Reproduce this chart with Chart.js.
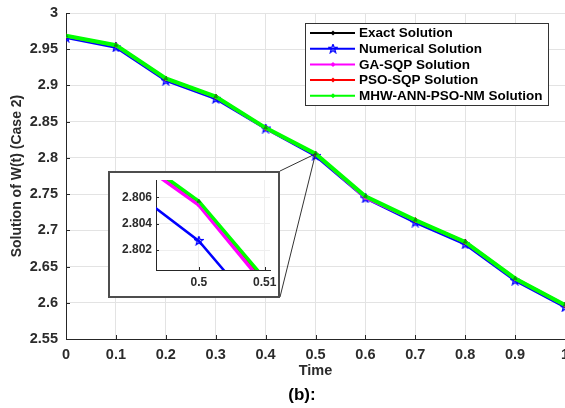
<!DOCTYPE html>
<html>
<head>
<meta charset="utf-8">
<script src="https://cdn.jsdelivr.net/npm/chart.js@4.4.0/dist/chart.umd.min.js"></script>
<style>
html, body { margin: 0; padding: 0; background: #fff; }
#wrap { position: relative; width: 565px; height: 408px; overflow: hidden; }
#mainChart { position: absolute; left: 0; top: 0; }
#insetBox { position: absolute; left: 108px; top: 171px; width: 172px; height: 127px;
  background: #fff; border: 2px solid #4d4d4d; box-sizing: border-box; }
#insetChart { position: absolute; left: 0; top: 0; }
</style>
</head>
<body>
<div id="wrap">
  <canvas id="mainChart" width="565" height="408"></canvas>
  <div id="insetBox"><canvas id="insetChart" width="168" height="123"></canvas></div>
</div>
<script>
// data
const time = [0, 0.1, 0.2, 0.3, 0.4, 0.5, 0.6, 0.7, 0.8, 0.9, 1];
const exactVals = [2.9685, 2.9555, 2.9095, 2.8845, 2.8415, 2.8056, 2.7468, 2.7140, 2.6838, 2.6335, 2.5968];
const numericalVals = [2.9660, 2.9525, 2.9065, 2.8815, 2.8405, 2.8027, 2.7442, 2.7108, 2.6806, 2.6305, 2.5938];
const gaSqpVals = [2.9683, 2.9553, 2.9093, 2.8843, 2.8410, 2.8054, 2.7450, 2.7138, 2.6836, 2.6333, 2.5966];
const psoSqpVals = [2.9684, 2.9554, 2.9094, 2.8844, 2.8412, 2.8055, 2.7460, 2.7139, 2.6837, 2.6334, 2.5967];
const mhwVals = [2.9686, 2.9556, 2.9096, 2.8846, 2.8415, 2.8057, 2.7470, 2.7141, 2.6839, 2.6336, 2.5969];

const seriesNames = ['Exact Solution', 'Numerical Solution', 'GA-SQP Solution', 'PSO-SQP Solution', 'MHW-ANN-PSO-NM Solution'];

const xTicks = [0, 0.1, 0.2, 0.3, 0.4, 0.5, 0.6, 0.7, 0.8, 0.9, 1];
const yTicks = [2.55, 2.6, 2.65, 2.7, 2.75, 2.8, 2.85, 2.9, 2.95, 3];
const insetXTicks = [0.5, 0.51];
const insetYTicks = [2.802, 2.804, 2.806];

const FONT = '"Liberation Sans", Arial, sans-serif';
const TICK_COLOR = '#2b2b2b';
const AXIS_COLOR = '#262626';

// MATLAB-like pentagram marker
function makeStar(color, size) {
  const c = document.createElement('canvas');
  c.width = size; c.height = size;
  const g = c.getContext('2d');
  const cx = size / 2, cy = size / 2, R = size / 2 - 0.5, r = R * 0.42;
  g.beginPath();
  for (let i = 0; i < 10; i++) {
    const rad = i % 2 === 0 ? R : r;
    const a = -Math.PI / 2 + i * Math.PI / 5;
    const px = cx + rad * Math.cos(a), py = cy + rad * Math.sin(a);
    if (i === 0) g.moveTo(px, py); else g.lineTo(px, py);
  }
  g.closePath();
  g.strokeStyle = color; g.lineWidth = 1.3; g.stroke();
  return c;
}
const blueStar = makeStar('#0000ff', 10);

const toXY = vals => time.map((t, i) => ({ x: t, y: vals[i] }));

function buildDatasets(inset) {
  return [
    { label: seriesNames[0], data: toXY(exactVals), borderColor: '#000000', backgroundColor: '#000000',
      borderWidth: 2, pointStyle: 'rectRot', pointRadius: 2.5, order: 3 },
    { label: seriesNames[1], data: toXY(numericalVals), borderColor: '#0000ff', backgroundColor: '#0000ff',
      borderWidth: 2.5, pointStyle: blueStar, pointRadius: 5, order: 4 },
    { label: seriesNames[2], data: toXY(gaSqpVals), borderColor: '#ff00ff', backgroundColor: '#ff00ff',
      borderWidth: inset ? 3.5 : 3, pointStyle: 'circle', pointRadius: 1.5, order: 1 },
    { label: seriesNames[3], data: toXY(psoSqpVals), borderColor: '#ff0000', backgroundColor: '#ff0000',
      borderWidth: 3, pointStyle: 'rectRot', pointRadius: 2.5, order: 2 },
    { label: seriesNames[4], data: toXY(mhwVals), borderColor: '#00ff00', backgroundColor: '#0a9a0a',
      borderWidth: inset ? 3.5 : 4, pointStyle: 'triangle', pointRadius: 2, order: 0 }
  ].map(d => Object.assign(d, { tension: 0, fill: false, clip: inset ? 0 : undefined,
      pointBorderColor: d.backgroundColor, pointBorderWidth: 1 }));
}

// short inward tick marks like MATLAB
const innerTicks = {
  id: 'innerTicks',
  afterDraw(chart, args, opts) {
    const { ctx, chartArea: a, scales } = chart;
    const len = opts.len || 4;
    ctx.save();
    ctx.strokeStyle = AXIS_COLOR; ctx.lineWidth = 1;
    ctx.beginPath();
    scales.x.ticks.forEach(t => {
      const px = Math.round(scales.x.getPixelForValue(t.value)) + 0.5;
      ctx.moveTo(px, a.bottom); ctx.lineTo(px, a.bottom - len);
    });
    scales.y.ticks.forEach(t => {
      const py = Math.round(scales.y.getPixelForValue(t.value)) + 0.5;
      ctx.moveTo(a.left, py); ctx.lineTo(a.left + len, py);
    });
    ctx.stroke();
    ctx.restore();
  }
};

// legend box, connector lines and caption on the main chart
const mainDecor = {
  id: 'mainDecor',
  afterDraw(chart) {
    const { ctx, scales } = chart;
    ctx.save();
    // connectors from the inset box to the zoomed point
    const px = scales.x.getPixelForValue(0.5);
    const py = scales.y.getPixelForValue(exactVals[5]);
    ctx.strokeStyle = '#333'; ctx.lineWidth = 1;
    ctx.beginPath();
    ctx.moveTo(280, 171); ctx.lineTo(px, py);
    ctx.moveTo(280, 297); ctx.lineTo(px, py);
    ctx.stroke();

    // legend
    const lx = 305, ly = 23, lw = 243, lh = 82;
    ctx.fillStyle = '#fff';
    ctx.fillRect(lx, ly, lw, lh);
    ctx.strokeStyle = '#333'; ctx.lineWidth = 1;
    ctx.strokeRect(lx + 0.5, ly + 0.5, lw, lh);
    ctx.font = 'bold 13.5px ' + FONT;
    ctx.textBaseline = 'middle';
    chart.data.datasets.forEach((ds, i) => {
      const y = ly + 10 + i * 15.7;
      ctx.strokeStyle = ds.borderColor; ctx.lineWidth = 2;
      ctx.beginPath(); ctx.moveTo(lx + 5, y); ctx.lineTo(lx + 50, y); ctx.stroke();
      const mx = lx + 28;
      if (ds.pointStyle instanceof HTMLCanvasElement) {
        ctx.drawImage(ds.pointStyle, mx - 5, y - 5);
      } else {
        ctx.fillStyle = ds.borderColor;
        ctx.beginPath();
        ctx.moveTo(mx, y - 2.5); ctx.lineTo(mx + 2.5, y); ctx.lineTo(mx, y + 2.5); ctx.lineTo(mx - 2.5, y);
        ctx.closePath(); ctx.fill();
      }
      ctx.fillStyle = '#000';
      ctx.fillText(ds.label, lx + 54, y + 0.5);
    });

    // figure caption
    ctx.font = 'bold 17px ' + FONT;
    ctx.textAlign = 'center';
    ctx.fillStyle = '#000';
    ctx.fillText('(b):', 302, 395);
    ctx.restore();
  }
};

const fmt = v => String(+v.toFixed(3));

new Chart(document.getElementById('mainChart'), {
  type: 'line',
  data: { datasets: buildDatasets(false) },
  options: {
    responsive: false,
    animation: false,
    layout: { autoPadding: false, padding: { top: 13, right: 0, left: 0, bottom: 0 } },
    plugins: { legend: { display: false }, tooltip: { enabled: false }, innerTicks: { len: 4 } },
    scales: {
      x: {
        type: 'linear', min: 0, max: 1,
        afterBuildTicks: s => { s.ticks = xTicks.map(v => ({ value: v })); },
        afterFit: s => { s.height = 69; s.paddingRight = 0; s.paddingLeft = 0; },
        grid: { color: '#e3e3e3', drawTicks: false },
        border: { color: AXIS_COLOR, width: 1 },
        ticks: { padding: 7, color: TICK_COLOR, font: { family: FONT, size: 14.5, weight: 'bold' }, callback: fmt, maxRotation: 0, autoSkip: false },
        title: { display: true, text: 'Time', color: TICK_COLOR, padding: { top: 0, bottom: 28 },
          font: { family: FONT, size: 14.5, weight: 'bold' } }
      },
      y: {
        type: 'linear', min: 2.55, max: 3,
        afterBuildTicks: s => { s.ticks = yTicks.map(v => ({ value: v })); },
        afterFit: s => { s.width = 66; s.paddingTop = 0; s.paddingBottom = 0; },
        grid: { color: '#e3e3e3', drawTicks: false },
        border: { color: AXIS_COLOR, width: 1 },
        ticks: { padding: 8, color: TICK_COLOR, font: { family: FONT, size: 14.5, weight: 'bold' }, callback: fmt, autoSkip: false },
        title: { display: true, text: 'Solution of W(t) (Case 2)', color: TICK_COLOR, padding: { top: 9, bottom: 0 },
          font: { family: FONT, size: 14, weight: 'bold' } }
      }
    }
  },
  plugins: [innerTicks, mainDecor]
});

new Chart(document.getElementById('insetChart'), {
  type: 'line',
  data: { datasets: buildDatasets(true) },
  options: {
    responsive: false,
    animation: false,
    layout: { autoPadding: false, padding: { top: 7, right: 8, left: 0, bottom: 0 } },
    plugins: { legend: { display: false }, tooltip: { enabled: false }, innerTicks: { len: 3 } },
    scales: {
      x: {
        type: 'linear', min: 0.4935, max: 0.5108,
        afterBuildTicks: s => { s.ticks = insetXTicks.map(v => ({ value: v })); },
        afterFit: s => { s.height = 26; s.paddingRight = 0; s.paddingLeft = 0; },
        grid: { color: '#eeeeee', drawTicks: false },
        border: { color: AXIS_COLOR, width: 1 },
        ticks: { padding: 5, color: TICK_COLOR, font: { family: FONT, size: 12, weight: 'bold' }, callback: fmt, maxRotation: 0, autoSkip: false }
      },
      y: {
        type: 'linear', min: 2.8005, max: 2.8073,
        afterBuildTicks: s => { s.ticks = insetYTicks.map(v => ({ value: v })); },
        afterFit: s => { s.width = 46; s.paddingTop = 0; s.paddingBottom = 0; },
        grid: { color: '#eeeeee', drawTicks: false },
        border: { color: AXIS_COLOR, width: 1 },
        ticks: { padding: 4, color: TICK_COLOR, font: { family: FONT, size: 12, weight: 'bold' }, callback: fmt, autoSkip: false }
      }
    }
  },
  plugins: [innerTicks]
});
</script>
</body>
</html>
